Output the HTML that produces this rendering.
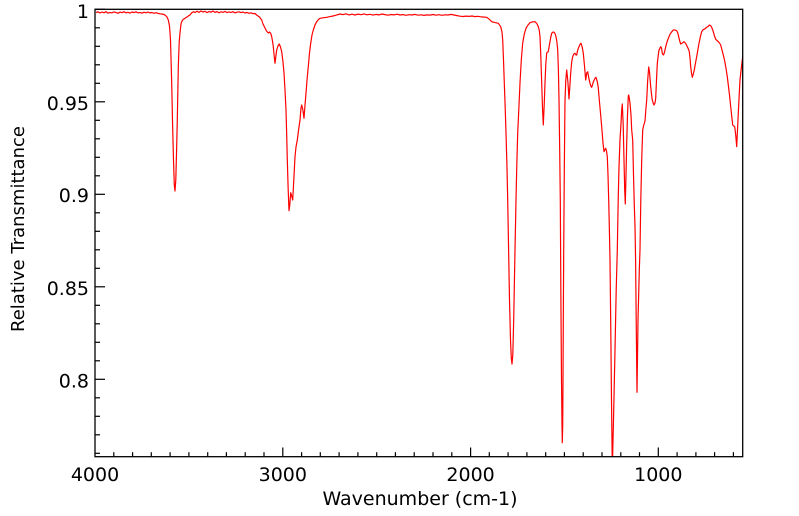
<!DOCTYPE html>
<html>
<head>
<meta charset="utf-8">
<style>
html,body{margin:0;padding:0;background:#fff;}
svg{display:block;}
text{font-family:"DejaVu Sans","Liberation Sans",sans-serif;fill:#000;}
</style>
</head>
<body>
<svg width="799" height="516" viewBox="0 0 799 516" xmlns="http://www.w3.org/2000/svg">
<defs>
<clipPath id="pc"><rect x="95" y="9.3" width="647.7" height="447.4"/></clipPath>
</defs>
<rect x="0" y="0" width="799" height="516" fill="#fff"/>

<g clip-path="url(#pc)">
<polyline fill="none" stroke="#ff0000" stroke-width="1.2" stroke-linejoin="round" points="
96,12.5 98,11.8 100,13 102,12 104,12.8 106,11.6 108,13.2 110,12.4 112,12.9 114,11.9 116,12.6 118,13.3 120,12.1 122,12.7 124,11.7 126,12.9 128,12.3 130,13.1 132,12 134,12.6 136,11.8 138,12.9 140,12.4 142,13.2 144,12.2 146,12.8 148,12 150,12.9 152,12.5 154,13.3 156,12.7 158,13.4 160,13.8 162,14 164,14.5 165.5,15.5 167,17 168.3,20 169.5,26 170.5,40 171.7,83 172.6,125 173.5,160 174.3,185 175,191 175.8,180 176.6,150 177.3,120 178.3,67 179.2,42 180,33 181,24 181.7,21.7 183,19.5 185,18.3 187,17 189,15.5 190,15 191.5,13 193.3,11.7 195,12.5 197,11.2 199,12.4 201,11 203,12 205,11.3 207,12.6 209,11.5 211,12.2 213,11 215,12.4 217,11.6 219,12.8 221,11.8 223,12.3 225,11.4 227,12.6 229,11.9 231,12.5 233,11.7 235,12.9 237,12.2 239,11.8 241,12.6 243,12.1 245,13 247,12.4 249,13.3 251,12.8 253,13.6 255,13.5 256.7,15 258,16 259.5,17 261.7,20 263,24 265,28 266.5,31 268.3,33 269.5,32 270.7,33.3 271.7,36.7 272.5,41 273.3,46.7 274.2,56 275,63.3 275.8,57 276.7,50 278,46 279.3,44 280.5,47 281.7,51.7 283,62 284,73 285,90 286,110 286.7,135 287.3,160 288.2,190 289,210.7 289.8,205 290.7,192.7 291.7,196 292.7,200 293.8,180 295,156.7 296,147 297.3,140 298.7,129 300,120 301,108 301.7,105 302.9,110 304,118.3 305,105 306,93.3 307.2,78 308.3,66.7 309.5,53 310.7,43.3 312,35 313.3,30 315,25 316.7,21.7 318.5,19.5 320,18.3 323,17.8 326.7,17.3 330,16.6 333,16 336,15.2
340,14 343,14.6 346,13.8 349,14.9 352,14.2 355,15 358,14.1 361,14.7 364,13.9 367,14.8 370,14.3 373,15.1 376,14.4 379,14.9 382,14 385,14.6 388,15.2 391,14.5 394,14.9 397,14.2 400,15 403,14.6 406,15.3 409,14.7 412,15 415,14.4 418,15.2 421,14.8 424,15.4 427,14.9 430,15.1 433,14.5 436,15.2 439,14.7 442,15.3 445,14.8 448,15 451,14.4 454,15 457,15.6 460,16.2 463,16.5 466,16.1 469,16.4 472,16 475,16.6 478,16.3 480,16.7 483,17 486.7,17.3
489,19 491.7,21.7 495,22.6 498.3,23.3 500.7,26.7 502,32 502.7,40 503.5,60 504.3,83 505.2,108 506,133 507,168 507.7,200 508.6,250 509.5,300 510.5,340 511.3,358 512,364 512.8,355 513.7,320 514.8,260 516,200 516.8,165 517.7,133 519,105 520,83 521.3,60 522.7,43 524.3,34 526,28.3 528,25 530,22.7 532.5,21.8 535,21.7 536.8,23.5 538.3,26.7 539.2,30 540,36.7 540.8,56 541.7,83 542.5,108 543.3,125 544.2,105 545,83 545.8,64 546.7,53 547.5,52 548.3,51.7 549.2,46 550,41.7 550.8,37 551.7,33.3 553,32 554,32.3 555,33.5 556,36.7 556.9,42 557.7,50 558.4,70 559,100 559.7,150 560.3,200 560.9,300 561.5,380 562,425 562.3,442.7 562.7,425 563,380 563.3,320 563.7,250 564.3,170 565,100 565.8,80 566.7,70 567.9,82 569,99 569.8,87 570.7,73 571.7,62 572.7,56.7 573.8,54 575,53.3 576,55 576.7,55 577.5,51 578.3,48.3 579.7,45 581,43.3 582.2,47 583.3,53.3 584.5,66 585.7,80 586.7,73 587.7,71.7 588.8,78 590,83.3 591,86.5 591.7,87.3 593.3,82 595,78.3 596,77.3 597.3,81.7 598.3,88 599.3,100 600.5,113 601.7,126.7 603,143 604,151.7 604.8,150 605.7,148.3 606.5,151 607.3,156.7 608,175 608.7,200 609.4,230 610,260 610.8,330 611.5,400 612.3,470
613.5,420 615,350 616.2,290 617.3,250 618.2,200 619,166.7 620,140 621,123.3 621.7,110 622.3,104 623.2,125 624,160 624.7,190 625.3,204 626,175 626.7,143 627.5,115 628.3,96 628.7,95 629.3,98 630,103.3 631,115 631.7,130 632.7,140 633.5,175 634.3,205 635,226.7 635.6,260 636.2,320 636.7,365 637,392.3 637.4,365 638,320 638.8,290 639.3,270 640,250 640.8,200 641.7,160 642.7,130 643.3,127 645,121 645.8,110 646.7,100 647.7,80 648.7,67 649.5,72 650.7,86.7 651.5,94 652.3,100 653.3,103.5 654,105 655,103 655.7,98.3 656.5,80 657.3,63.3 658.3,55 659,50 660.7,46.7 661.5,48 662.3,53.3 663.2,55 664,54 665,50 665.7,46.7 667,42 668.3,38.3 669.7,35 671,32.7 673.3,30 675,30 676.7,30.7 677.8,33 678.7,36.7 679.7,41 680.7,44 682.3,43 684,41.7 685.7,43.5 687.3,46.7 688.4,49 689.3,51.7 690,58 690.7,66.7 691.5,73 692.3,77.3 693.3,74 694.3,70 695.5,63 696.7,56.7 698,49 699,43.3 700.3,37 701.7,31.7 702.8,30 704,29.3 705.4,28.5 706.7,27.3 708,26.5 709.3,25 710.5,25.5 711.7,27.3 712.5,29.5 713.3,31.7 714.5,36 715.7,39.3 717,40.5 718.3,41.7 719.5,43 720.7,45 722,50 723.3,55 724.7,61 726,68.3 727.2,76 728.3,85 729.5,95 730.7,106.7 731.7,116 732.7,125 733.7,126 734.7,126.7 735.7,135 736.7,146.7 737.5,130 738.3,113.3 739.2,95 740,80 741.3,68 742.7,56.7 744,50
"/>
</g>

<!-- frame -->
<rect x="95" y="9.3" width="647.7" height="447.4" fill="none" stroke="#000" stroke-width="1.3"/>

<!-- y ticks: major -->
<g stroke="#000" stroke-width="1.2">
<line x1="95" y1="9.3" x2="105" y2="9.3"/>
<line x1="95" y1="101.8" x2="105" y2="101.8"/>
<line x1="95" y1="194.3" x2="105" y2="194.3"/>
<line x1="95" y1="286.8" x2="105" y2="286.8"/>
<line x1="95" y1="379.3" x2="105" y2="379.3"/>
<!-- y minor -->
<line x1="95" y1="27.8" x2="100" y2="27.8"/>
<line x1="95" y1="46.3" x2="100" y2="46.3"/>
<line x1="95" y1="64.8" x2="100" y2="64.8"/>
<line x1="95" y1="83.3" x2="100" y2="83.3"/>
<line x1="95" y1="120.3" x2="100" y2="120.3"/>
<line x1="95" y1="138.8" x2="100" y2="138.8"/>
<line x1="95" y1="157.3" x2="100" y2="157.3"/>
<line x1="95" y1="175.8" x2="100" y2="175.8"/>
<line x1="95" y1="212.8" x2="100" y2="212.8"/>
<line x1="95" y1="231.3" x2="100" y2="231.3"/>
<line x1="95" y1="249.8" x2="100" y2="249.8"/>
<line x1="95" y1="268.3" x2="100" y2="268.3"/>
<line x1="95" y1="305.3" x2="100" y2="305.3"/>
<line x1="95" y1="323.8" x2="100" y2="323.8"/>
<line x1="95" y1="342.3" x2="100" y2="342.3"/>
<line x1="95" y1="360.8" x2="100" y2="360.8"/>
<line x1="95" y1="397.8" x2="100" y2="397.8"/>
<line x1="95" y1="416.3" x2="100" y2="416.3"/>
<line x1="95" y1="434.8" x2="100" y2="434.8"/>
<line x1="95" y1="453.3" x2="100" y2="453.3"/>

<!-- x major -->
<line x1="282.8" y1="456.7" x2="282.8" y2="447.5"/>
<line x1="470.6" y1="456.7" x2="470.6" y2="447.5"/>
<line x1="658.3" y1="456.7" x2="658.3" y2="447.5"/>
<!-- x minor -->
<line x1="113.8" y1="456.7" x2="113.8" y2="452.2"/>
<line x1="132.6" y1="456.7" x2="132.6" y2="452.2"/>
<line x1="151.3" y1="456.7" x2="151.3" y2="452.2"/>
<line x1="170.1" y1="456.7" x2="170.1" y2="452.2"/>
<line x1="188.9" y1="456.7" x2="188.9" y2="452.2"/>
<line x1="207.7" y1="456.7" x2="207.7" y2="452.2"/>
<line x1="226.4" y1="456.7" x2="226.4" y2="452.2"/>
<line x1="245.2" y1="456.7" x2="245.2" y2="452.2"/>
<line x1="264.0" y1="456.7" x2="264.0" y2="452.2"/>
<line x1="301.6" y1="456.7" x2="301.6" y2="452.2"/>
<line x1="320.3" y1="456.7" x2="320.3" y2="452.2"/>
<line x1="339.1" y1="456.7" x2="339.1" y2="452.2"/>
<line x1="357.9" y1="456.7" x2="357.9" y2="452.2"/>
<line x1="376.7" y1="456.7" x2="376.7" y2="452.2"/>
<line x1="395.4" y1="456.7" x2="395.4" y2="452.2"/>
<line x1="414.2" y1="456.7" x2="414.2" y2="452.2"/>
<line x1="433.0" y1="456.7" x2="433.0" y2="452.2"/>
<line x1="451.8" y1="456.7" x2="451.8" y2="452.2"/>
<line x1="489.3" y1="456.7" x2="489.3" y2="452.2"/>
<line x1="508.1" y1="456.7" x2="508.1" y2="452.2"/>
<line x1="526.9" y1="456.7" x2="526.9" y2="452.2"/>
<line x1="545.7" y1="456.7" x2="545.7" y2="452.2"/>
<line x1="564.4" y1="456.7" x2="564.4" y2="452.2"/>
<line x1="583.2" y1="456.7" x2="583.2" y2="452.2"/>
<line x1="602.0" y1="456.7" x2="602.0" y2="452.2"/>
<line x1="620.8" y1="456.7" x2="620.8" y2="452.2"/>
<line x1="639.5" y1="456.7" x2="639.5" y2="452.2"/>
<line x1="677.1" y1="456.7" x2="677.1" y2="452.2"/>
<line x1="695.9" y1="456.7" x2="695.9" y2="452.2"/>
<line x1="714.6" y1="456.7" x2="714.6" y2="452.2"/>
<line x1="733.4" y1="456.7" x2="733.4" y2="452.2"/>
</g>

<!-- y labels -->
<g font-size="19" text-anchor="end">
<text x="89" y="17.8">1</text>
<text x="89" y="109.8">0.95</text>
<text x="89" y="202">0.9</text>
<text x="89" y="295">0.85</text>
<text x="89" y="387.3">0.8</text>
</g>
<!-- x labels -->
<g font-size="19" text-anchor="middle">
<text x="95" y="481">4000</text>
<text x="282.8" y="481">3000</text>
<text x="470.6" y="481">2000</text>
<text x="658.3" y="481">1000</text>
</g>
<text x="420" y="505" font-size="19" text-anchor="middle">Wavenumber (cm-1)</text>
<text transform="translate(24,229) rotate(-90)" font-size="18" text-anchor="middle">Relative Transmittance</text>
</svg>
</body>
</html>
